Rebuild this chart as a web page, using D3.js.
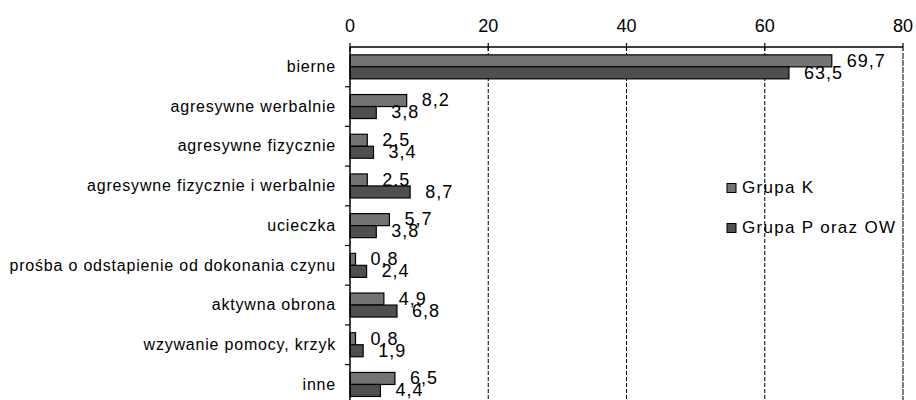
<!DOCTYPE html>
<meta charset="utf-8">
<script src="https://d3js.org/d3.v7.min.js"></script>
<style>
  body { margin: 0; background: #fff; }
  text { font-family: Arial, "Liberation Sans", sans-serif; fill: #000; }
</style>
<div id="chart"></div>
<script>
  // chart data
  const categories = [
    'bierne',
    'agresywne werbalnie',
    'agresywne fizycznie',
    'agresywne fizycznie i werbalnie',
    'ucieczka',
    'prośba o odstapienie od dokonania czynu',
    'aktywna obrona',
    'wzywanie pomocy, krzyk',
    'inne'
  ];
  const groupK = [69.7, 8.2, 2.5, 2.5, 5.7, 0.8, 4.9, 0.8, 6.5];
  const groupP = [63.5, 3.8, 3.4, 8.7, 3.8, 2.4, 6.8, 1.9, 4.4];
  const seriesNames = ['Grupa K', 'Grupa P oraz OW'];
  const seriesColors = ['#737373', '#4f4f4f'];
  const xTicks = [0, 20, 40, 60, 80];

  const width = 916, height = 400;
  const plotLeft = 350, plotRight = 903, plotTop = 47, band = 39.7;

  const svg = d3.select('#chart').append('svg')
    .attr('width', width)
    .attr('height', height);

  const x = d3.scaleLinear().domain([0, 80]).range([plotLeft, plotRight]);
  const y = d3.scaleBand().domain(categories)
    .range([plotTop, plotTop + band * categories.length])
    .paddingInner(0).paddingOuter(0);
  const barH = 12;

  const fmt = v => d3.format('.1f')(v).replace('.', ',');

  // grid lines
  svg.selectAll('line.grid')
    .data(xTicks.filter(t => t > 0 && t < 80))
    .enter().append('line')
    .attr('class', 'grid')
    .attr('x1', d => x(d)).attr('x2', d => x(d))
    .attr('y1', plotTop).attr('y2', height)
    .style('stroke', '#000')
    .style('stroke-width', 1)
    .style('stroke-dasharray', '4,2');

  // right border of plot area
  svg.append('line')
    .attr('x1', x(80)).attr('x2', x(80))
    .attr('y1', plotTop + 6).attr('y2', height)
    .style('stroke', '#808080')
    .style('stroke-width', 2)
    .style('stroke-dasharray', '6,1');

  // bars + value labels
  const series = [groupK, groupP];
  series.forEach((vals, si) => {
    svg.selectAll('rect.s' + si)
      .data(vals)
      .enter().append('rect')
      .attr('class', 's' + si)
      .attr('x', x(0))
      .attr('y', (d, i) => y(categories[i]) + y.bandwidth() / 2 - barH + si * barH)
      .attr('width', d => x(d) - x(0))
      .attr('height', barH)
      .style('fill', seriesColors[si])
      .style('stroke', '#000')
      .style('stroke-width', 1.2);

    svg.selectAll('text.v' + si)
      .data(vals)
      .enter().append('text')
      .attr('class', 'v' + si)
      .attr('x', d => x(d) + 15)
      .attr('y', (d, i) => y(categories[i]) + y.bandwidth() / 2 - barH / 2 + si * barH + 1)
      .attr('dominant-baseline', 'middle')
      .style('font-size', '18px')
      .style('letter-spacing', '1px')
      .text(d => fmt(d));
  });

  // top axis
  svg.append('line')
    .attr('x1', x(0)).attr('x2', x(80))
    .attr('y1', plotTop).attr('y2', plotTop)
    .style('stroke', '#000').style('stroke-width', 1.5);
  svg.selectAll('line.xtick')
    .data(xTicks)
    .enter().append('line')
    .attr('class', 'xtick')
    .attr('x1', d => x(d)).attr('x2', d => x(d))
    .attr('y1', plotTop - 4).attr('y2', plotTop + 4)
    .style('stroke', '#000').style('stroke-width', 1.2);
  svg.selectAll('text.xlab')
    .data(xTicks)
    .enter().append('text')
    .attr('class', 'xlab')
    .attr('x', d => x(d))
    .attr('y', 32)
    .attr('text-anchor', 'middle')
    .style('font-size', '18px')
    .text(d => d);

  // left axis
  svg.append('line')
    .attr('x1', x(0)).attr('x2', x(0))
    .attr('y1', plotTop).attr('y2', height)
    .style('stroke', '#000').style('stroke-width', 1.5);
  svg.selectAll('line.ytick')
    .data(categories.slice(1))
    .enter().append('line')
    .attr('class', 'ytick')
    .attr('x1', x(0) - 5).attr('x2', x(0))
    .attr('y1', d => y(d)).attr('y2', d => y(d))
    .style('stroke', '#000').style('stroke-width', 1.2);
  svg.selectAll('text.cat')
    .data(categories)
    .enter().append('text')
    .attr('class', 'cat')
    .attr('x', 336)
    .attr('y', d => y(d) + y.bandwidth() / 2 + 1)
    .attr('text-anchor', 'end')
    .attr('dominant-baseline', 'middle')
    .style('font-size', '16px')
    .style('letter-spacing', '0.8px')
    .text(d => d);

  // legend
  const legY = [188, 228];
  seriesNames.forEach((name, i) => {
    svg.append('rect')
      .attr('x', 727).attr('y', legY[i] - 4.5)
      .attr('width', 9).attr('height', 9)
      .style('fill', seriesColors[i])
      .style('stroke', '#000').style('stroke-width', 1);
    svg.append('text')
      .attr('x', 742).attr('y', legY[i] + 1)
      .attr('dominant-baseline', 'middle')
      .style('font-size', '17px')
      .style('letter-spacing', '1.3px')
      .text(name);
  });
</script>
